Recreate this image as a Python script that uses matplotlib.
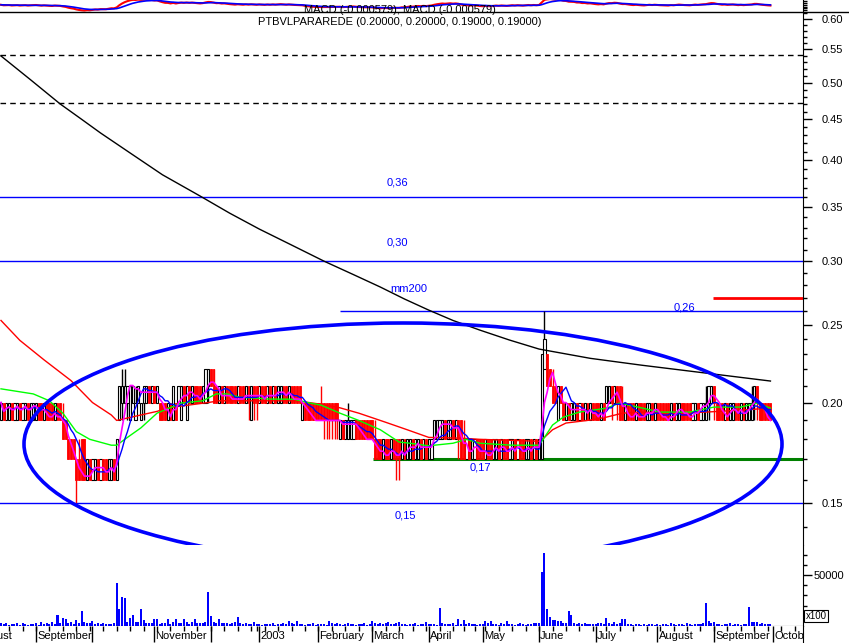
import numpy as np
import pandas as pd
import matplotlib
matplotlib.use("Agg")
import matplotlib.pyplot as plt
from matplotlib.patches import Ellipse
from matplotlib.lines import Line2D
from matplotlib.ticker import FixedLocator, NullFormatter, FormatStrFormatter

plt.rcParams['font.family'] = ['Liberation Sans', 'DejaVu Sans']

# daily prices in cents, 14 Aug 2002 .. 30 Sep 2003 (one row = 10 sessions)
opn = [19,20,19,19,20,19,19,20,19,19, 20,19,19,19,20,20,19,20,20,20,
       19,20,20,19,19,18,18,18,17,17, 18,18,16,17,16,16,17,16,17,17,
       16,16,17,16,19,20,20,20,19,20, 19,20,19,20,20,21,20,21,20,20,
       20,20,19,20,19,20,20,19,21,19, 21,20,21,21,21,20,20,21,22,22,
       21,20,21,20,21,21,21,21,20,21, 21,20,21,19,21,21,20,21,21,20,
       21,20,21,20,20,21,21,20,21,21, 21,21,19,20,20,20,20,20,20,20,
       20,20,20,20,20,20,18,19,18,18, 18,18,19,19,19,19,19,19,19,18,
       18,18,17,18,18,17,18,18,18,17, 18,17,17,18,17,17,18,17,18,17,
       17,18,18,18,18,19,18,18,19,18, 19,19,18,17,18,17,17,18,18,18,
       17,18,18,17,17,18,17,18,18,17, 17,18,17,18,18,17,17,18,17,18,
       17,17,22,23,22,21,21,19,21,20, 19,20,19,19,20,19,20,19,20,19,
       20,20,20,19,20,20,20,21,20,21, 21,20,19,20,20,20,19,20,20,20,
       19,19,20,19,20,20,20,20,20,19, 20,19,19,20,20,20,20,19,19,20,
       19,19,19,20,20,21,20,20,20,19, 20,19,19,20,20,19,20,19,19,19,
       20,21,20,20,20,20,20]
cls = [20,19,20,20,19,20,20,19,20,20, 19,20,20,20,19,19,20,19,19,19,
       20,19,19,18,18,17,17,17,16,16, 16,16,17,16,17,17,16,17,16,16,
       17,17,16,18,21,21,21,21,21,21, 20,21,20,21,21,20,21,20,21,19,
       19,19,20,19,21,19,21,21,20,21, 20,21,20,20,20,21,22,22,21,20,
       20,21,20,21,20,20,20,20,21,20, 20,21,20,21,20,20,21,20,20,21,
       20,21,20,21,21,20,20,21,20,20, 20,20,20,19,19,19,19,19,19,19,
       19,19,19,19,19,19,19,18,19,19, 19,19,18,18,18,18,18,18,18,17,
       17,17,18,17,17,18,17,17,17,18, 17,18,18,17,18,18,17,18,17,18,
       18,19,19,19,19,18,19,19,18,19, 18,17,17,18,17,18,18,17,17,17,
       18,17,17,18,18,17,18,17,17,18, 18,17,18,17,17,18,18,17,18,17,
       18,23,24,21,21,20,20,21,20,19, 20,19,20,20,19,20,19,20,19,20,
       19,19,19,20,19,21,21,20,21,20, 19,19,20,19,19,19,20,19,19,19,
       20,20,19,20,19,19,19,19,19,20, 19,20,20,19,19,19,19,20,20,19,
       20,20,20,21,21,20,19,19,19,20, 19,20,20,19,19,20,19,20,20,20,
       21,20,19,19,19,19,19]
hi = [20,20,20,20,20,20,20,20,20,20, 20,20,20,20,20,20,20,20,20,20,
      20,20,20,20,19,18,18,18,17,18, 18,18,17,17,17,17,17,17,17,17,
      17,17,17,18,21,22,22,21,21,21, 21,21,20,21,21,21,21,21,21,20,
      20,20,20,20,21,20,21,21,21,21, 21,21,21,21,21,21,22,22,22,22,
      21,21,21,21,21,21,21,21,21,21, 21,21,21,21,21,21,21,21,21,21,
      21,21,21,21,21,21,21,21,21,21, 21,21,20,20,20,20,20,20,20,21,
      20,20,20,20,20,20,19,19,19,20, 19,19,19,19,19,19,19,19,19,19,
      18,18,18,18,18,18,18,18,18,18, 18,18,18,18,18,18,18,18,18,18,
      18,19,19,19,19,19,19,19,19,19, 19,19,19,18,18,18,18,18,18,18,
      18,18,18,18,18,18,18,18,18,18, 18,18,18,18,18,18,18,18,18,18,
      18,23,26,23,22,22,21,21,21,20, 20,20,20,20,20,20,20,20,20,20,
      20,20,20,20,20,21,21,21,21,21, 21,21,20,20,20,20,20,20,20,20,
      20,20,20,20,20,20,20,20,20,20, 20,20,20,20,20,20,20,20,20,20,
      20,20,21,21,21,21,20,20,20,20, 20,20,20,20,20,20,20,20,20,21,
      21,21,20,20,20,20,20]
lo = [19,19,19,19,19,19,19,19,19,19, 19,19,19,19,19,19,19,19,19,19,
      19,19,19,18,18,17,17,17,15,16, 16,16,16,16,16,16,16,16,16,16,
      16,16,16,16,19,19,20,19,19,20, 19,20,19,19,20,20,20,20,20,19,
      19,19,19,19,19,19,20,19,20,19, 20,20,20,20,20,20,20,20,21,20,
      20,20,20,20,20,20,20,20,20,20, 20,20,19,19,19,19,20,20,20,20,
      20,20,20,20,20,20,20,20,20,20, 20,20,19,19,19,19,19,19,19,19,
      18,18,18,18,18,18,18,18,18,18, 18,18,18,18,18,18,18,18,18,17,
      17,17,17,17,17,17,17,16,16,17, 17,17,17,17,17,17,17,17,17,17,
      17,18,18,18,18,18,18,18,18,18, 17,17,17,17,17,17,17,17,17,17,
      17,17,17,17,17,17,17,17,17,17, 17,17,17,17,17,17,17,17,17,17,
      17,17,22,21,21,20,20,19,20,19, 19,19,19,19,19,19,19,19,19,19,
      19,19,19,19,19,20,20,19,20,19, 19,19,19,19,19,19,19,19,19,19,
      19,19,19,19,19,19,19,19,19,19, 19,19,19,19,19,19,19,19,19,19,
      19,19,19,19,20,19,19,19,19,19, 19,19,19,19,19,19,19,19,19,19,
      19,19,19,19,19,19,19]
# volume, in hundreds (axis reads x100)
vol = [2500,1500,3000,1000,2000,1500,2500,1000,3000,1500,
       1000,2000,1500,2500,1000,3500,2000,2500,1500,4000,
       2000,10800,3000,8000,7000,2500,3500,2000,6000,3000,
       15000,4000,3000,2500,5000,2000,3000,1500,2500,2000,
       1500,2000,3000,42000,17000,28000,27000,4000,8000,11000,
       4000,3500,17000,6000,3000,2500,3000,7000,7000,2000,
       3000,2500,7000,2000,3500,7000,2500,3000,7000,3500,
       2000,4000,7000,3000,2500,3000,4000,33000,10000,4000,
       3000,7000,3000,2500,3000,2000,2500,3500,9000,3000,
       2000,2500,2000,1500,4000,2000,1500,1000,1500,2000,
       1500,2500,1000,2000,1500,3000,2000,5000,2500,1500,
       5000,2000,1500,1000,2000,1500,2500,1000,1500,2000,
       1500,1000,5000,2500,1500,3000,2000,1000,1500,2500,
       2000,1500,1000,2000,1500,2500,1000,1500,5000,2500,
       1500,3000,2000,2500,3500,1500,2000,2500,4000,2000,
       1500,1000,2000,1500,2500,1000,1500,2000,4000,1500,
       2000,1500,1000,17500,2500,1500,2000,1500,2500,1000,
       7000,2000,6000,1500,2500,2000,1500,1000,2000,1500,
       5000,2500,4500,2000,1500,1000,2500,1500,4500,2000,
       1500,1000,2000,2500,1500,1000,2000,1500,2500,3000,
       3000,52500,72000,16500,9000,6000,6000,5000,5000,2500,
       3000,14500,11000,2500,2000,3000,1500,2500,2000,1500,
       2000,1500,2500,3000,2000,8000,2500,1500,4000,2000,
       2500,7000,7000,2000,1500,1000,2000,1500,1000,1500,
       1000,1500,2000,1000,1500,1000,2000,1500,1000,2500,
       1500,1000,2000,1500,1000,2500,1500,1000,2000,1500,
       1500,2500,22500,5000,3000,4000,2000,1500,1000,2000,
       1500,2500,1000,2000,1500,1000,2000,1500,18500,4000,
       4000,4000,2000,3000,1500,2000,1500]

# slower averages (session index, price)
green_day = [0,12,18,23,28,33,41,43,47,52,58,67,75,80,84,89,94,100,109,114,
             119,126,133,141,148,152,159,168,173,178,190,200,202,205,209,215,
             225,230,238,245,256,265,275,281,286]
green_val = [0.208,0.205,0.201,0.194,0.184,0.180,0.177,0.177,0.181,0.186,
             0.194,0.1997,0.201,0.205,0.205,0.203,0.2026,0.202,0.2019,0.200,
             0.1985,0.194,0.190,0.185,0.1786,0.178,0.1767,0.178,0.180,0.178,
             0.177,0.177,0.181,0.1875,0.1918,0.1946,0.1968,0.1997,0.197,0.1946,
             0.1946,0.1974,0.1974,0.1997,0.1968]
red_day = [0,7,16,26,34,41,43,49,58,62,77,81,110,119,126,133,143,151,159,171,
           178,200,202,205,210,219,225,231,238,250,262,275,286]
red_val = [0.253,0.239,0.226,0.213,0.200,0.193,0.190,0.192,0.195,0.197,
           0.200,0.201,0.201,0.199,0.197,0.194,0.189,0.185,0.181,0.1806,
           0.180,0.179,0.181,0.185,0.1886,0.1902,0.1918,0.194,0.1946,0.194,
           0.1946,0.1957,0.1968]
mm_day = [0,11,22,30,37,48,60,74,85,96,108,120,131,141,150,159,168,178,
          189,200,219,238,262,286]
mm_val = [0.5396,0.5040,0.4703,0.4500,0.4328,0.4087,0.3840,0.3613,0.3440,
          0.3287,0.3140,0.2999,0.2885,0.2784,0.2690,0.2606,0.2530,0.2461,
          0.2392,0.2331,0.2270,0.2226,0.2176,0.2127]

holidays = ['2002-12-24', '2002-12-25', '2002-12-26', '2002-12-31',
            '2003-01-01', '2003-04-18', '2003-04-21', '2003-05-01']
month_names = {(2002, 8): 'August', (2002, 9): 'September', (2002, 11): 'November',
               (2003, 1): '2003', (2003, 2): 'February', (2003, 3): 'March',
               (2003, 4): 'April', (2003, 5): 'May', (2003, 6): 'June',
               (2003, 7): 'July', (2003, 8): 'August', (2003, 9): 'September',
               (2003, 10): 'October'}

assert len(opn) == len(cls) == len(hi) == len(lo) == len(vol) == 287

# trading calendar -> session index
all_days = pd.bdate_range('2002-08-01', '2003-10-31')
all_days = all_days[~all_days.isin(pd.to_datetime(holidays))]
first = all_days.searchsorted(pd.Timestamp('2002-08-14'))


def pos(d):
    if d < all_days[first]:
        return all_days.searchsorted(pd.Timestamp(d)) - first
    return all_days.searchsorted(pd.Timestamp(d)) - first


W, H = 849, 643
fig = plt.figure(figsize=(W / 100, H / 100), dpi=100)


def px(x0, y0, x1, y1):
    return [x0 / W, 1 - y1 / H, (x1 - x0) / W, (y1 - y0) / H]


ax_m = fig.add_axes(px(0, 0, 803, 12))
ax = fig.add_axes(px(0, 12, 803, 545))
ax_v = fig.add_axes(px(0, 545, 803, 626))
ax_d = fig.add_axes(px(0, 626, 803, 643))
xmin, xmax = -0.37, 298.1

x = np.arange(len(cls))
o = np.array(opn) / 100
c = np.array(cls) / 100
h = np.array(hi) / 100
l = np.array(lo) / 100
up = c >= o

# ---- price panel
ax.set_yscale('log')
ax.set_xlim(xmin, xmax)
ax.set_ylim(0.133, 0.612)

blue = '#0000FF'
ax.axhline(0.541, color='black', lw=1, ls=(0, (4, 3)), zorder=1)
ax.axhline(0.472, color='black', lw=1, ls=(0, (4, 3)), zorder=1)
ax.axhline(0.36, color=blue, lw=1, zorder=1)
ax.axhline(0.30, color=blue, lw=1, zorder=1)
ax.axhline(0.15, color=blue, lw=1, zorder=1)
ax.hlines(0.26, 126, xmax, color=blue, lw=1, zorder=1)
ax.hlines(0.17, 138.3, xmax, color='#008000', lw=2.2, zorder=1)
ax.hlines(0.27, 264.7, xmax, color='#FF0000', lw=2, zorder=1)

ax.vlines(x[up], l[up], h[up], color='black', lw=1, zorder=2)
ax.vlines(x[~up], l[~up], h[~up], color='red', lw=1, zorder=2)
ax.bar(x[up], c[up] - o[up], bottom=o[up], width=0.8, facecolor='white',
       edgecolor='black', lw=0.8, zorder=2)
ax.bar(x[~up], o[~up] - c[~up], bottom=c[~up], width=0.7, facecolor='red',
       edgecolor='red', lw=0.6, zorder=2)

cs = pd.Series(c)
ax.plot(mm_day, mm_val, color='black', lw=1, zorder=3)
ax.plot(red_day, red_val, color='red', lw=1, zorder=3)
ax.plot(green_day, green_val, color='#00FF00', lw=1, zorder=3)
ax.plot(x, cs.rolling(10, min_periods=1).mean(), color=blue, lw=1, zorder=3)
ax.plot(x, cs.rolling(5, min_periods=1).mean(), color='#FF00FF', lw=1.2, zorder=3)

ax.add_patch(Ellipse((403 / 803, (545 - 444) / 533), 758 / 803, 242 / 533,
                     transform=ax.transAxes, fill=False, ec=blue, lw=2.6, zorder=5))

for tx, ty, s in [(147.2, 0.376, '0,36'), (147.2, 0.316, '0,30'),
                  (151.7, 0.2768, 'mm200'), (253.9, 0.2629, '0,26'),
                  (178.1, 0.1662, '0,17'), (150.2, 0.1449, '0,15')]:
    ax.text(tx, ty, s, color=blue, fontsize=8, ha='center', va='center', zorder=6)

ax.yaxis.tick_right()
ax.yaxis.set_major_locator(FixedLocator([0.15, 0.20, 0.25, 0.30, 0.35, 0.40,
                                         0.45, 0.50, 0.55, 0.60]))
ax.yaxis.set_major_formatter(FormatStrFormatter('%.2f'))
ax.yaxis.set_minor_locator(FixedLocator([k / 100 for k in range(14, 62) if k % 5]))
ax.yaxis.set_minor_formatter(NullFormatter())
ax.tick_params(axis='y', which='major', length=6.5, width=1, labelsize=8, pad=7)
ax.tick_params(axis='y', which='minor', length=3, width=1)
ax.set_xticks([])
for side in ['left', 'top', 'bottom']:
    ax.spines[side].set_visible(False)

# ---- volume panel
ax_v.bar(x, vol, width=0.75, color=blue)
ax_v.set_xlim(xmin, xmax)
ax_v.set_ylim(0, 79400)
ax_v.yaxis.tick_right()
ax_v.yaxis.set_major_locator(FixedLocator([50000]))
ax_v.yaxis.set_major_formatter(FormatStrFormatter('%d'))
ax_v.yaxis.set_minor_locator(FixedLocator([10000, 20000, 30000, 40000, 60000, 70000]))
ax_v.tick_params(axis='y', which='major', length=6.5, width=1, labelsize=8, pad=1)
ax_v.tick_params(axis='y', which='minor', length=3, width=1)
ax_v.set_xticks([])
for side in ['left', 'top']:
    ax_v.spines[side].set_visible(False)

# ---- MACD strip
macd = cs.ewm(span=12, adjust=False).mean() - cs.ewm(span=26, adjust=False).mean()
sig = macd.ewm(span=9, adjust=False).mean()
ax_m.plot(x, macd, color='red', lw=1.5)
ax_m.plot(x, sig, color=blue, lw=1.2)
ax_m.set_xlim(xmin, xmax)
ax_m.set_ylim(-0.012, 0.008)
ax_m.yaxis.tick_right()
ax_m.set_yticks([-0.009, -0.006, -0.003, 0.0, 0.003, 0.006])
ax_m.set_yticklabels([])
ax_m.tick_params(axis='y', length=3, width=1)
ax_m.set_xticks([])
for side in ['left', 'top', 'bottom']:
    ax_m.spines[side].set_visible(False)

# ---- date strip
months = pd.date_range('2002-08-01', '2003-10-01', freq='MS')
mondays = pd.date_range('2002-08-05', '2003-10-13', freq='W-MON')
ax_d.set_xlim(xmin, xmax)
ax_d.set_ylim(0, 1)
# sessions before 14 Aug 2002 count backwards (-9 for 1 Aug)
pre = {pd.Timestamp('2002-08-01'): -9, pd.Timestamp('2002-08-05'): -7,
       pd.Timestamp('2002-08-12'): -2}
ax_d.vlines([pre.get(d, pos(d)) for d in mondays], 0.7, 1, color='black', lw=1)
for m in months:
    p = pre.get(m, pos(m))
    ax_d.vlines(p, 0.08, 1, color='black', lw=1)
    name = month_names.get((m.year, m.month))
    if name:
        ax_d.text(p + 0.4, 0.40, name, fontsize=8, ha='left', va='center', clip_on=True)
ax_d.set_xticks([])
ax_d.set_yticks([])
for side in ['left', 'top', 'bottom']:
    ax_d.spines[side].set_visible(False)

fig.add_artist(Line2D([0, 1], [1 - 12 / H, 1 - 12 / H], color='black', lw=1))
fig.text(400 / W, 1 - 10 / H, 'MACD (-0.000579), MACD (-0.000579)',
         ha='center', va='center', fontsize=8)
fig.text(400 / W, 1 - 22 / H, 'PTBVLPARAREDE (0.20000, 0.20000, 0.19000, 0.19000)',
         ha='center', va='center', fontsize=8)
fig.text(816 / W, 1 - 616 / H, 'x100', ha='center', va='center', fontsize=7,
         bbox=dict(boxstyle='square,pad=0.15', fc='white', ec='black', lw=0.8))

fig.savefig('out.png', dpi=100)
